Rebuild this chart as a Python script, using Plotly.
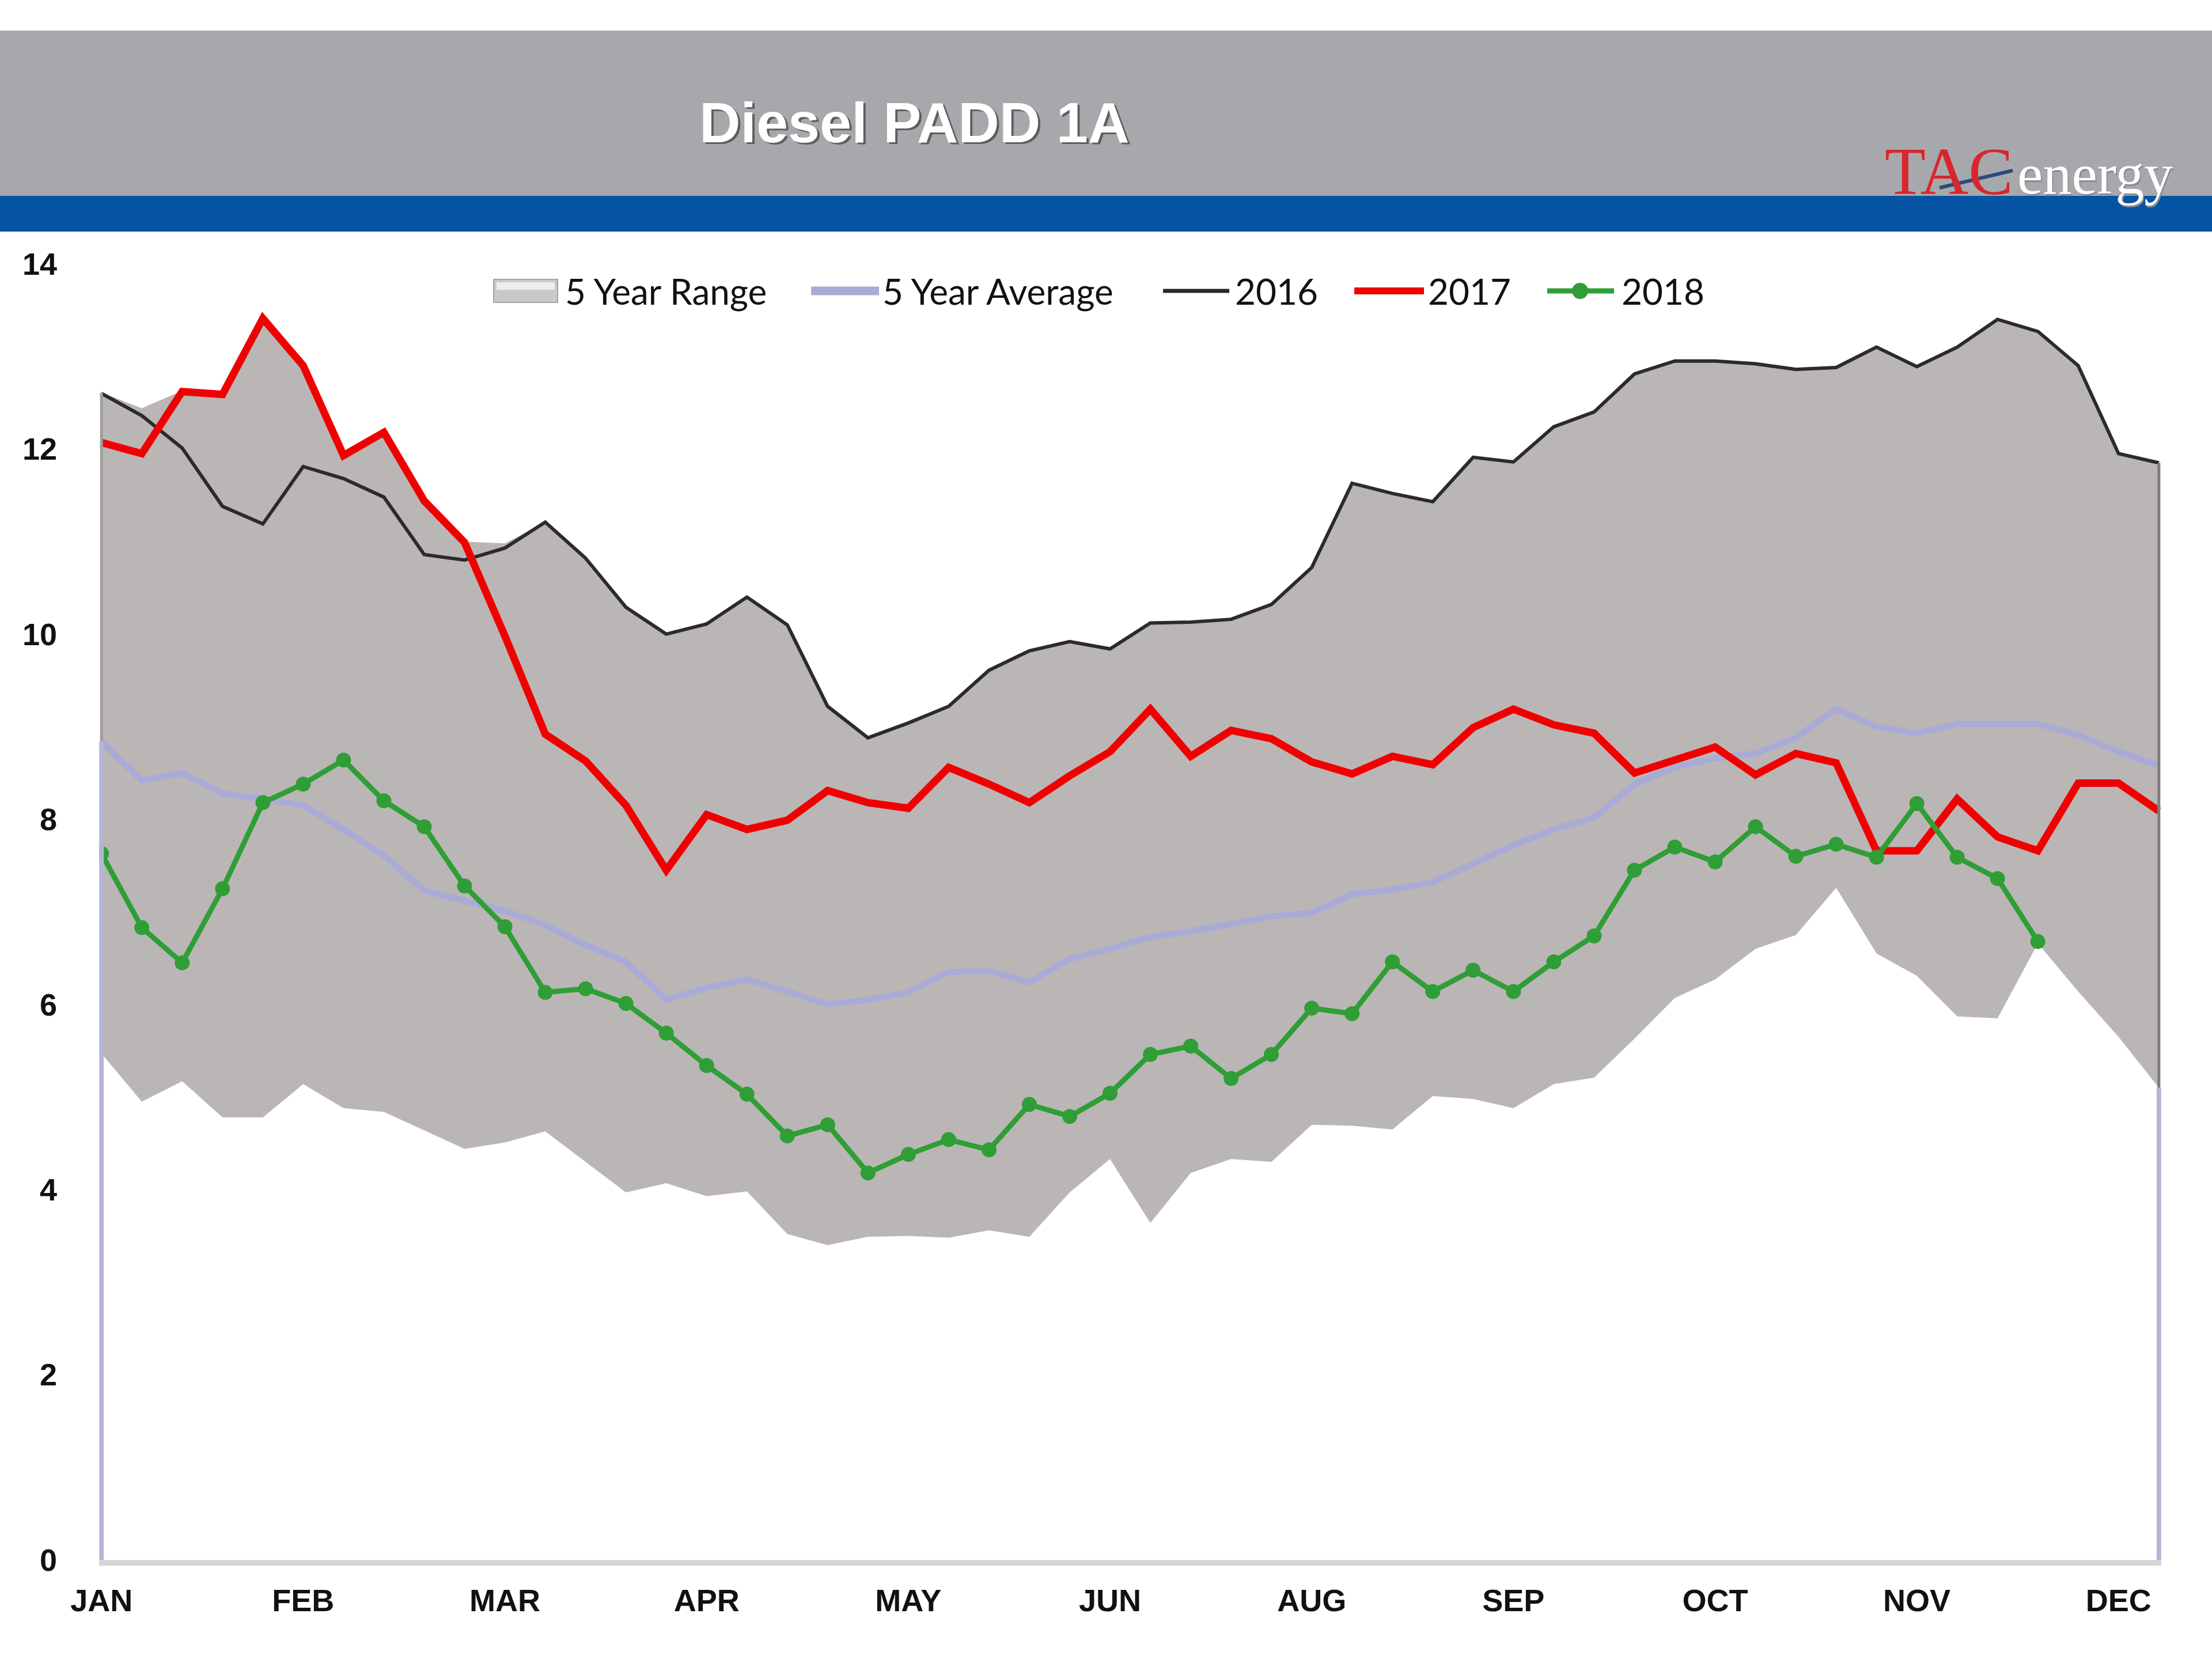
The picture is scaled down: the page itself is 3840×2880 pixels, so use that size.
import plotly.graph_objects as go

# ---------------- data ----------------
weeks = list(range(52))
month_ticks = [0, 5, 10, 15, 20, 25, 30, 35, 40, 45, 50]
month_labels = ["JAN", "FEB", "MAR", "APR", "MAY", "JUN", "AUG", "SEP", "OCT", "NOV", "DEC"]
y_ticks = [0, 2, 4, 6, 8, 10, 12, 14]

range_high = [12.61, 12.44, 12.63, 12.59, 13.41, 12.90, 11.94, 12.18, 11.44, 11.00,
              10.98, 11.21, 10.82, 10.31, 10.00, 10.11, 10.40, 10.10, 9.22, 8.88,
              9.04, 9.22, 9.61, 9.82, 9.92, 9.84, 10.13, 10.13, 10.18, 10.33,
              10.72, 11.63, 11.52, 11.43, 11.91, 11.86, 12.24, 12.40, 12.81, 12.95,
              12.95, 12.92, 12.86, 12.88, 13.10, 12.89, 13.10, 13.40, 13.27, 12.90,
              11.95, 11.85]
range_low = [5.47, 4.95, 5.17, 4.78, 4.78, 5.14, 4.88, 4.84, 4.64, 4.44,
             4.51, 4.63, 4.30, 3.97, 4.07, 3.93, 3.98, 3.52, 3.40, 3.49,
             3.50, 3.48, 3.56, 3.49, 3.97, 4.33, 3.64, 4.18, 4.33, 4.30,
             4.70, 4.69, 4.65, 5.01, 4.98, 4.88, 5.14, 5.21, 5.63, 6.07,
             6.27, 6.60, 6.75, 7.26, 6.55, 6.31, 5.87, 5.85, 6.66, 6.14,
             5.65, 5.10]
avg_5yr = [8.84, 8.42, 8.50, 8.28, 8.22, 8.15, 7.89, 7.61, 7.23, 7.12,
           7.01, 6.86, 6.64, 6.46, 6.05, 6.18, 6.27, 6.14, 6.00, 6.05,
           6.13, 6.35, 6.36, 6.24, 6.49, 6.60, 6.73, 6.79, 6.87, 6.95,
           6.99, 7.19, 7.24, 7.32, 7.52, 7.72, 7.89, 8.02, 8.38, 8.56,
           8.66, 8.71, 8.88, 9.19, 9.00, 8.93, 9.03, 9.03, 9.03, 8.91,
           8.73, 8.58]
y2016 = [12.60, 12.36, 12.01, 11.38, 11.19, 11.81, 11.68, 11.48, 10.86, 10.80,
         10.93, 11.21, 10.82, 10.29, 10.00, 10.11, 10.40, 10.10, 9.22, 8.88,
         9.04, 9.22, 9.61, 9.82, 9.92, 9.84, 10.12, 10.13, 10.16, 10.32,
         10.72, 11.63, 11.52, 11.43, 11.91, 11.86, 12.24, 12.40, 12.81, 12.95,
         12.95, 12.92, 12.86, 12.88, 13.10, 12.89, 13.10, 13.40, 13.27, 12.90,
         11.95, 11.85]
y2017 = [12.07, 11.95, 12.62, 12.59, 13.41, 12.90, 11.93, 12.18, 11.44, 10.99,
         9.98, 8.92, 8.63, 8.15, 7.45, 8.05, 7.89, 7.99, 8.31, 8.18,
         8.12, 8.56, 8.38, 8.18, 8.47, 8.73, 9.19, 8.68, 8.96, 8.87,
         8.62, 8.49, 8.68, 8.59, 8.99, 9.19, 9.02, 8.93, 8.50, 8.64,
         8.78, 8.48, 8.71, 8.61, 7.66, 7.66, 8.22, 7.81, 7.66, 8.39,
         8.39, 8.09]
y2018 = [7.63, 6.83, 6.45, 7.25, 8.18, 8.38, 8.64, 8.20, 7.92, 7.28,
         6.84, 6.13, 6.17, 6.01, 5.69, 5.34, 5.03, 4.58, 4.70, 4.18,
         4.38, 4.54, 4.43, 4.92, 4.79, 5.04, 5.46, 5.55, 5.20, 5.46,
         5.96, 5.90, 6.46, 6.14, 6.37, 6.14, 6.46, 6.74, 7.45, 7.70,
         7.54, 7.92, 7.60, 7.73, 7.59, 8.17, 7.59, 7.36, 6.68]

# ---------------- styles ----------------
W, H = 3840, 2880
ML, MR, MT, MB = 172, 88, 458, 172
PW = W - ML - MR
PH = H - MT - MB
PLOT_BOTTOM = H - MB

C_AREA = "#bab6b6"
C_AVG = "#a9abd6"
C_2016 = "#2b2b2b"
C_2017 = "#f00000"
C_2018 = "#2f9e36"
C_HEADER = "#a7a8ab"
C_BLUE = "#0553a3"
TICK_FONT = dict(family="Liberation Sans, Arial", size=54, color="#111111", weight="bold")


def px(x):
    return (x - ML) / PW


def py(y):
    return (PLOT_BOTTOM - y) / PH


fig = go.Figure()

fig.add_trace(go.Scatter(x=weeks, y=range_low, mode="lines", line=dict(width=0, color=C_AREA),
                         hoverinfo="skip", showlegend=False))
fig.add_trace(go.Scatter(x=weeks, y=range_high, mode="lines", line=dict(width=0, color=C_AREA),
                         fill="tonexty", fillcolor=C_AREA, name="5 Year Range", showlegend=False))
fig.add_trace(go.Scatter(x=weeks, y=avg_5yr, mode="lines", line=dict(width=11, color=C_AVG),
                         name="5 Year Average", showlegend=False))
fig.add_trace(go.Scatter(x=weeks, y=y2016, mode="lines", line=dict(width=6, color=C_2016),
                         name="2016", showlegend=False))
fig.add_trace(go.Scatter(x=weeks, y=y2017, mode="lines", line=dict(width=13, color=C_2017),
                         name="2017", showlegend=False))
fig.add_trace(go.Scatter(x=weeks[:len(y2018)], y=y2018, mode="lines+markers",
                         line=dict(width=9, color=C_2018),
                         marker=dict(size=26, color=C_2018), name="2018", showlegend=False))

shapes = []
# header bands
shapes.append(dict(type="rect", xref="paper", yref="paper", x0=px(0), x1=px(W), y0=py(340), y1=py(53),
                   fillcolor=C_HEADER, line=dict(width=0), layer="below"))
shapes.append(dict(type="rect", xref="paper", yref="paper", x0=px(0), x1=px(W), y0=py(402), y1=py(340),
                   fillcolor=C_BLUE, line=dict(width=0), layer="below"))
# logo swoosh
shapes.append(dict(type="line", xref="paper", yref="paper", x0=px(3367), y0=py(326), x1=px(3494), y1=py(296),
                   line=dict(color="#2a4b7c", width=6)))

# edge lines of the chart (drawn from the data ends)
last = len(weeks) - 1
shapes.append(dict(type="line", xref="x", yref="y", x0=0, x1=0, y0=0, y1=avg_5yr[0],
                   line=dict(color="#b4b6d6", width=8)))
shapes.append(dict(type="line", xref="x", yref="y", x0=0, x1=0, y0=avg_5yr[0], y1=range_high[0],
                   line=dict(color="#a09d9d", width=5)))
shapes.append(dict(type="line", xref="x", yref="y", x0=last, x1=last, y0=0, y1=range_low[last],
                   line=dict(color="#b4b6d6", width=8)))
shapes.append(dict(type="line", xref="x", yref="y", x0=last, x1=last, y0=range_low[last], y1=range_high[last],
                   line=dict(color="#7f7c7c", width=5)))

# legend swatches
LEG_Y = 505
shapes.append(dict(type="rect", xref="paper", yref="paper", x0=px(857), x1=px(968), y0=py(525), y1=py(485),
                   fillcolor="#c9c9c9", line=dict(color="#a3a3a3", width=2)))
shapes.append(dict(type="rect", xref="paper", yref="paper", x0=px(862), x1=px(963), y0=py(503), y1=py(490),
                   fillcolor="#ededed", line=dict(width=0)))
shapes.append(dict(type="line", xref="paper", yref="paper", x0=px(1408), x1=px(1526), y0=py(LEG_Y), y1=py(LEG_Y),
                   line=dict(color=C_AVG, width=15)))
shapes.append(dict(type="line", xref="paper", yref="paper", x0=px(2019), x1=px(2134), y0=py(LEG_Y), y1=py(LEG_Y),
                   line=dict(color=C_2016, width=7)))
shapes.append(dict(type="line", xref="paper", yref="paper", x0=px(2351), x1=px(2472), y0=py(LEG_Y), y1=py(LEG_Y),
                   line=dict(color=C_2017, width=12)))
shapes.append(dict(type="line", xref="paper", yref="paper", x0=px(2686), x1=px(2802), y0=py(LEG_Y), y1=py(LEG_Y),
                   line=dict(color=C_2018, width=9)))
shapes.append(dict(type="circle", xref="paper", yref="paper", x0=px(2729), x1=px(2757), y0=py(519), y1=py(491),
                   fillcolor=C_2018, line=dict(width=0)))

annotations = []
# title with shadow
TITLE = "Diesel PADD 1A"
annotations.append(dict(text=TITLE, xref="paper", yref="paper", x=px(1591), y=py(216), showarrow=False,
                        xanchor="center", yanchor="middle",
                        font=dict(family="Liberation Sans, Arial", size=99, color="#5e5e60", weight="bold")))
annotations.append(dict(text=TITLE, xref="paper", yref="paper", x=px(1587), y=py(212), showarrow=False,
                        xanchor="center", yanchor="middle",
                        font=dict(family="Liberation Sans, Arial", size=99, color="#ffffff", weight="bold")))
# logo
annotations.append(dict(text="TAC", xref="paper", yref="paper", x=px(3270), y=py(298), showarrow=False,
                        xanchor="left", yanchor="middle",
                        font=dict(family="Liberation Serif, Times New Roman", size=116, color="#d8262e")))
annotations.append(dict(text="energy", xref="paper", yref="paper", x=px(3502), y=py(306), showarrow=False,
                        xanchor="left", yanchor="middle",
                        font=dict(family="Liberation Serif, Times New Roman", size=100, color="#8a8c90")))
annotations.append(dict(text="energy", xref="paper", yref="paper", x=px(3500), y=py(303), showarrow=False,
                        xanchor="left", yanchor="middle",
                        font=dict(family="Liberation Serif, Times New Roman", size=100, color="#ffffff")))
# legend labels
legend_items = [("5 Year Range", 979), ("5 Year Average", 1530), ("2016", 2142), ("2017", 2477), ("2018", 2813)]
for label, xpos in legend_items:
    annotations.append(dict(text=label, xref="paper", yref="paper", x=px(xpos), y=py(LEG_Y), showarrow=False,
                            xanchor="left", yanchor="middle",
                            font=dict(family="Lato, Open Sans", size=62, color="#111111")))

fig.update_layout(
    width=W, height=H,
    margin=dict(l=ML, r=MR, t=MT, b=MB, pad=0),
    paper_bgcolor="white", plot_bgcolor="white",
    showlegend=False,
    shapes=shapes,
    annotations=annotations,
    xaxis=dict(range=[-0.06, last + 0.06], tickmode="array", tickvals=month_ticks, ticktext=month_labels,
               showgrid=False, zeroline=False, showline=True, linecolor="#d6d6d6", linewidth=10,
               ticks="", ticklabelstandoff=14, tickfont=TICK_FONT),
    yaxis=dict(range=[0, 14], tickmode="array", tickvals=y_ticks,
               showgrid=False, zeroline=False, showline=False, ticks="", ticklabelstandoff=72,
               tickfont=TICK_FONT),
)

fig.write_html("out.html", config={"displayModeBar": False},
               post_script="document.body.style.margin='0';")
